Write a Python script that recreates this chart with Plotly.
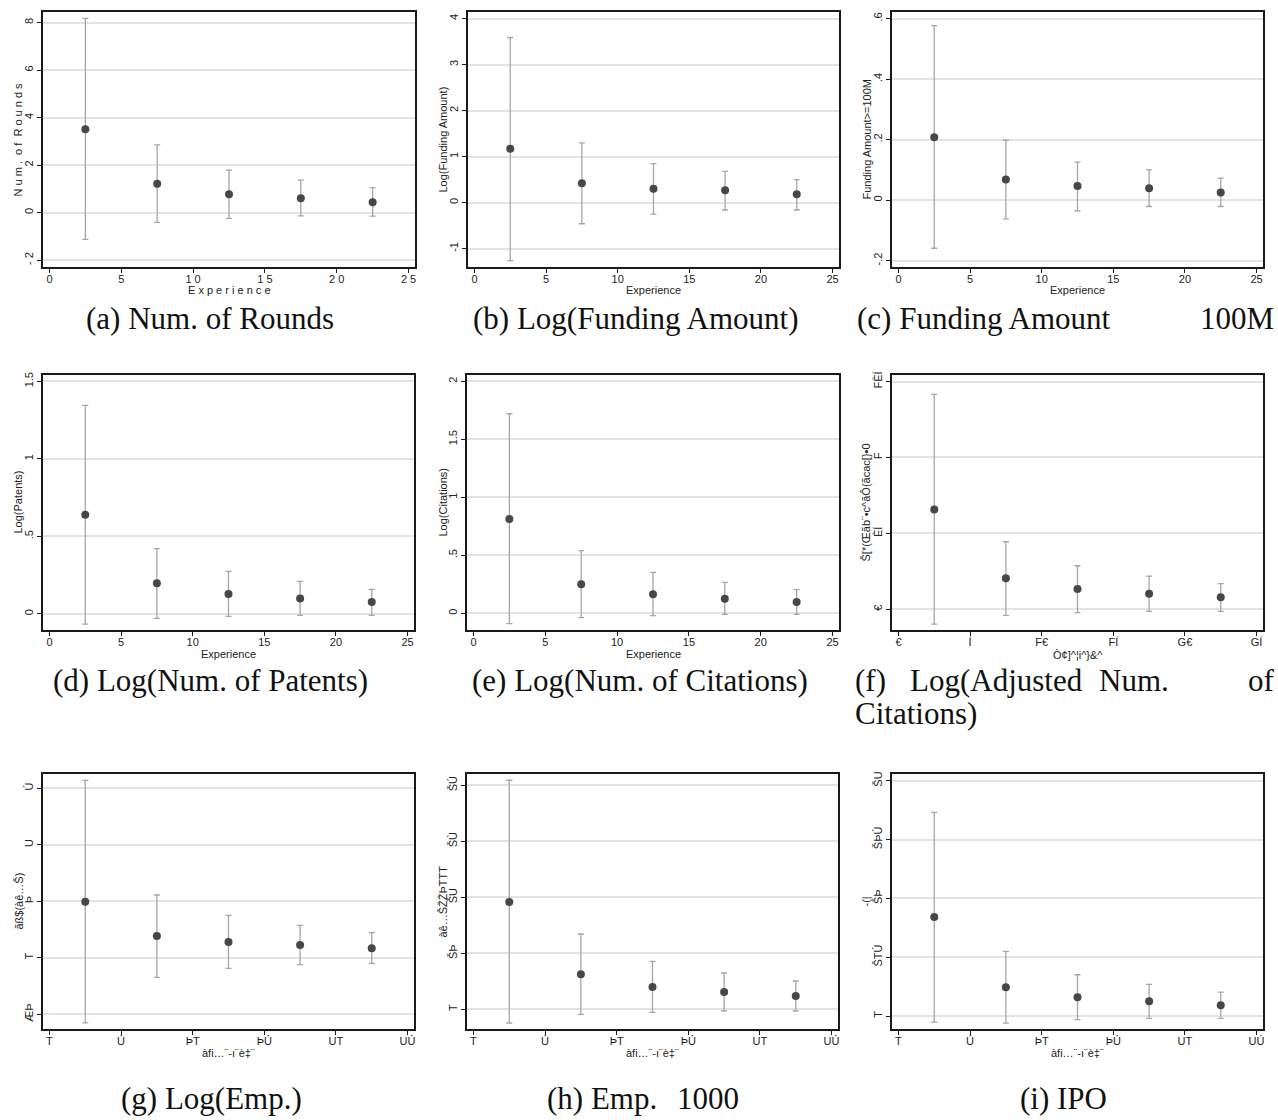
import plotly.graph_objects as go

W, H = 1278, 1120

# ---------------- data ----------------
experience = [2.5, 7.5, 12.5, 17.5, 22.5]
x_tickvals = [0, 5, 10, 15, 20, 25]

# (a) Num. of Rounds
rounds_est = [3.51, 1.22, 0.77, 0.61, 0.44]
rounds_hi = [8.18, 2.85, 1.79, 1.37, 1.05]
rounds_lo = [-1.13, -0.41, -0.24, -0.14, -0.15]
rounds_yticks = [-2, 0, 2, 4, 6, 8]
rounds_yticktext = ["- 2", "0", "2", "4", "6", "8"]
rounds_xticktext = ["0", "5", "1 0", "1 5", "2 0", "2 5"]

# (b) Log(Funding Amount)
logfund_est = [1.17, 0.42, 0.30, 0.27, 0.18]
logfund_hi = [3.59, 1.30, 0.85, 0.68, 0.50]
logfund_lo = [-1.26, -0.46, -0.25, -0.16, -0.16]
logfund_yticks = [-1, 0, 1, 2, 3, 4]
logfund_yticktext = ["-1", "0", "1", "2", "3", "4"]

# (c) Funding Amount >= 100M
fund100_est = [0.208, 0.068, 0.047, 0.039, 0.025]
fund100_hi = [0.577, 0.198, 0.126, 0.100, 0.073]
fund100_lo = [-0.159, -0.062, -0.035, -0.021, -0.021]
fund100_yticks = [-0.2, 0, 0.2, 0.4, 0.6]
fund100_yticktext = ["-.2", "0", ".2", ".4", ".6"]

# (d) Log(Num. of Patents)
patents_est = [0.639, 0.196, 0.127, 0.099, 0.075]
patents_hi = [1.345, 0.420, 0.273, 0.209, 0.157]
patents_lo = [-0.067, -0.030, -0.017, -0.011, -0.011]
patents_yticks = [0, 0.5, 1, 1.5]
patents_yticktext = ["0", ".5", "1", "1.5"]

# (e) Log(Num. of Citations)
cites_est = [0.813, 0.250, 0.164, 0.126, 0.098]
cites_hi = [1.721, 0.540, 0.353, 0.267, 0.204]
cites_lo = [-0.089, -0.037, -0.020, -0.009, -0.009]
cites_yticks = [0, 0.5, 1, 1.5, 2]
cites_yticktext = ["0", ".5", "1", "1.5", "2"]

# (f) Log(Adjusted Num. of Citations)
adjcites_est = [0.658, 0.204, 0.134, 0.103, 0.079]
adjcites_hi = [1.415, 0.445, 0.287, 0.219, 0.169]
adjcites_lo = [-0.097, -0.040, -0.022, -0.013, -0.013]
adjcites_yticks = [0, 0.5, 1, 1.5]
adjcites_yticktext = ["€", "ÈÍ", "F", "FÈÍ"]
adjcites_xticktext = ["€", "Í", "F€", "FÍ", "G€", "GÍ"]

# (g) Log(Emp.)
logemp_est = [0.991, 0.383, 0.277, 0.224, 0.165]
logemp_hi = [3.139, 1.109, 0.749, 0.572, 0.442]
logemp_lo = [-1.156, -0.348, -0.189, -0.124, -0.100]
logemp_yticks = [-1, 0, 1, 2, 3]
logemp_yticktext = ["ÆÞ", "T", "Þ", "U", "Ú"]
garbled_xticktext = ["T", "Ú", "ÞT", "ÞÚ", "UT", "UÚ"]

# (h) Emp. >= 1000
emp1000_est = [0.1917, 0.0625, 0.0399, 0.0310, 0.0238]
emp1000_hi = [0.409, 0.1345, 0.0857, 0.0649, 0.0506]
emp1000_lo = [-0.0244, -0.0089, -0.0054, -0.0030, -0.0030]
emp1000_yticks = [0, 0.1, 0.2, 0.3, 0.4]
emp1000_yticktext = ["T", "ŠÞ", "ŠU", "ŠÙ", "ŠÚ"]

# (i) IPO
ipo_est = [0.0841, 0.0244, 0.0159, 0.0125, 0.0091]
ipo_hi = [0.1731, 0.0550, 0.0351, 0.0269, 0.0204]
ipo_lo = [-0.0051, -0.0060, -0.0031, -0.0020, -0.0020]
ipo_yticks = [0, 0.05, 0.1, 0.15, 0.2]
ipo_yticktext = ["T", "ŠTÚ", "ŠÞ", "ŠÞÚ", "ŠU"]

# ---------------- layout spec ----------------
panels = [
    dict(est=rounds_est, hi=rounds_hi, lo=rounds_lo, yticks=rounds_yticks, ytext=rounds_yticktext,
         xtext=rounds_xticktext, yrange=[-2.29, 8.45], box=(43, 12, 415, 267),
         ytitle="N u m .  o f  R o u n d s", xtitle="E x p e r i e n c e", ytx=17, xty=290),
    dict(est=logfund_est, hi=logfund_hi, lo=logfund_lo, yticks=logfund_yticks, ytext=logfund_yticktext,
         xtext=None, yrange=[-1.40, 4.145], box=(468, 12, 839, 267),
         ytitle="Log(Funding Amount)", xtitle="Experience", ytx=442, xty=290),
    dict(est=fund100_est, hi=fund100_hi, lo=fund100_lo, yticks=fund100_yticks, ytext=fund100_yticktext,
         xtext=None, yrange=[-0.221, 0.622], box=(892, 12, 1263, 267),
         ytitle="Funding Amount>=100M", xtitle="Experience", ytx=866, xty=290),
    dict(est=patents_est, hi=patents_hi, lo=patents_lo, yticks=patents_yticks, ytext=patents_yticktext,
         xtext=None, yrange=[-0.105, 1.541], box=(43, 375, 414, 630),
         ytitle="Log(Patents)", xtitle="Experience", ytx=17, xty=654),
    dict(est=cites_est, hi=cites_hi, lo=cites_lo, yticks=cites_yticks, ytext=cites_yticktext,
         xtext=None, yrange=[-0.144, 2.055], box=(467, 375, 839, 630),
         ytitle="Log(Citations)", xtitle="Experience", ytx=442, xty=654),
    dict(est=adjcites_est, hi=adjcites_hi, lo=adjcites_lo, yticks=adjcites_yticks, ytext=adjcites_yticktext,
         xtext=adjcites_xticktext, yrange=[-0.136, 1.543], box=(892, 375, 1263, 630),
         ytitle="Š[*(Œãb¨•c^ãÔ(ãcac[}•0", xtitle="Ò¢]^¦i^}&^", ytx=865, xty=655),
    dict(est=logemp_est, hi=logemp_hi, lo=logemp_lo, yticks=logemp_yticks, ytext=logemp_yticktext,
         xtext=garbled_xticktext, yrange=[-1.263, 3.251], box=(43, 774, 414, 1029),
         ytitle="ãß$(àê…Š)", xtitle="àfi…¨-ı¨è‡¨", ytx=18, xty=1053),
    dict(est=emp1000_est, hi=emp1000_hi, lo=emp1000_lo, yticks=emp1000_yticks, ytext=emp1000_yticktext,
         xtext=garbled_xticktext, yrange=[-0.0351, 0.4202], box=(467, 774, 838, 1029),
         ytitle="àê…ŠŽŽÞTTT", xtitle="àfi…¨-ı¨è‡¨", ytx=442, xty=1053),
    dict(est=ipo_est, hi=ipo_hi, lo=ipo_lo, yticks=ipo_yticks, ytext=ipo_yticktext,
         xtext=garbled_xticktext, yrange=[-0.011, 0.2057], box=(892, 774, 1263, 1029),
         ytitle="-(|", xtitle="àfi…¨-ı¨è‡¨", ytx=865, xty=1053),
]

SANS = "Liberation Sans, Arial, sans-serif"
SERIF = "Liberation Serif, Times New Roman, serif"
FRAME = "#1a1a1a"
GRID = "#e3e3e3"

fig = go.Figure()
annotations = []
layout = dict(width=W, height=H, margin=dict(l=0, r=0, t=0, b=0),
              paper_bgcolor="white", plot_bgcolor="white", showlegend=False)

for i, p in enumerate(panels):
    k = i + 1
    sx = "" if k == 1 else str(k)
    x0, y0, x1, y1 = p["box"]
    err_up = [h - e for h, e in zip(p["hi"], p["est"])]
    err_dn = [e - l for e, l in zip(p["est"], p["lo"])]
    fig.add_trace(go.Scatter(
        x=experience, y=p["est"], mode="markers",
        marker=dict(size=8, color="#474747"),
        error_y=dict(type="data", symmetric=False, array=err_up, arrayminus=err_dn,
                     color="#a6a6a6", thickness=1.3, width=3),
        xaxis="x" + sx, yaxis="y" + sx, hoverinfo="skip"))
    xt = p["xtext"] if p["xtext"] is not None else [str(v) for v in x_tickvals]
    layout["xaxis" + sx] = dict(
        domain=[x0 / W, x1 / W], anchor="y" + sx, range=[-0.45, 25.45],
        tickmode="array", tickvals=x_tickvals, ticktext=xt,
        showline=True, mirror=True, linecolor=FRAME, linewidth=1.5,
        ticks="outside", ticklen=4, tickcolor=FRAME, tickwidth=1,
        ticklabelstandoff=-3,
        showgrid=False, zeroline=False, automargin=False,
        tickfont=dict(family=SANS, size=11, color="#222"))
    layout["yaxis" + sx] = dict(
        domain=[1 - y1 / H, 1 - y0 / H], anchor="x" + sx, range=p["yrange"],
        tickmode="array", tickvals=p["yticks"], ticktext=p["ytext"], tickangle=-90,
        showline=True, mirror=True, linecolor=FRAME, linewidth=1.5,
        ticks="outside", ticklen=4, tickcolor=FRAME, tickwidth=1,
        showgrid=True, gridcolor=GRID, gridwidth=1.5, zeroline=False, automargin=False,
        tickfont=dict(family=SANS, size=11, color="#222"))
    annotations.append(dict(
        text=p["ytitle"], x=p["ytx"] / W, y=1 - ((y0 + y1) / 2) / H, xref="paper", yref="paper",
        textangle=-90, showarrow=False, xanchor="center", yanchor="middle",
        font=dict(family=SANS, size=11, color="#222")))
    annotations.append(dict(
        text=p["xtitle"], x=((x0 + x1) / 2) / W, y=1 - p["xty"] / H, xref="paper", yref="paper",
        showarrow=False, xanchor="center", yanchor="middle",
        font=dict(family=SANS, size=11, color="#222")))

# captions
captions = [
    ("(a) Num. of Rounds", 210, 318, "center"),
    ("(b) Log(Funding Amount)", 636, 318, "center"),
    ("(c) Funding Amount", 855, 318, "left"),
    ("100M", 1276, 318, "right"),
    ("(d) Log(Num. of Patents)", 210, 680, "center"),
    ("(e) Log(Num. of Citations)", 640, 680, "center"),
    ("(f)", 853, 680, "left"),
    ("Log(Adjusted", 908, 680, "left"),
    ("Num.", 1097, 680, "left"),
    ("of", 1277, 680, "right"),
    ("Citations)", 853, 713, "left"),
    ("(g) Log(Emp.)", 211, 1098, "center"),
    ("(h) Emp.", 545, 1098, "left"),
    ("1000", 741, 1098, "right"),
    ("(i) IPO", 1063, 1098, "center"),
]
for txt, cx, cy, anc in captions:
    annotations.append(dict(
        text=txt, x=cx / W, y=1 - cy / H, xref="paper", yref="paper", showarrow=False,
        xanchor=anc, yanchor="middle", font=dict(family=SERIF, size=31, color="#111")))

layout["annotations"] = annotations
fig.update_layout(**layout)
fig.write_html("out.html", config={"displayModeBar": False},
               post_script="document.body.style.margin='0px';document.body.style.overflow='hidden';")
